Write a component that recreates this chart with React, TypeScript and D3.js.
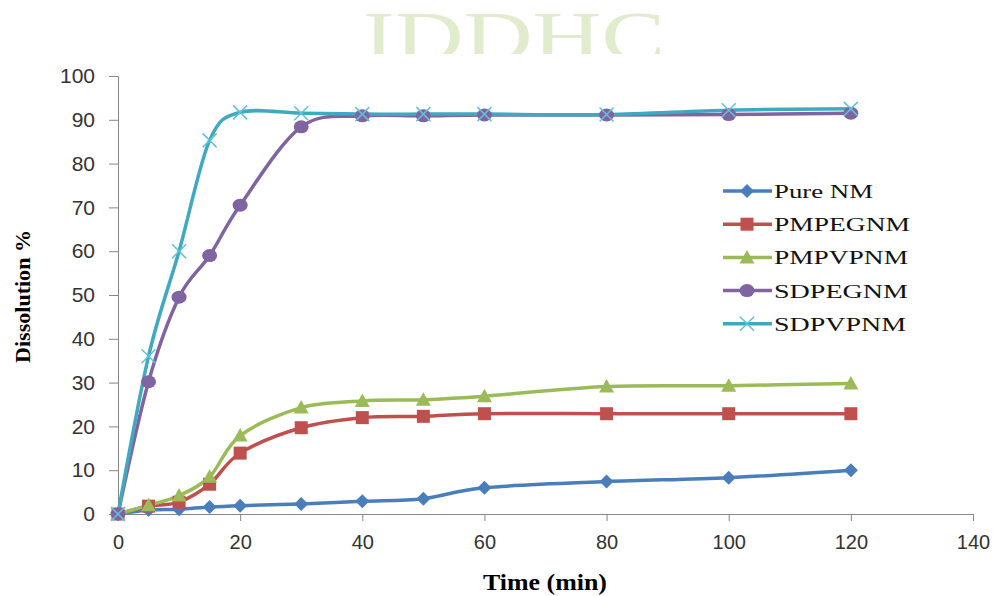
import * as d3 from 'd3'
import { useEffect, useRef } from 'react'

// time points (min)
const times = [0, 5, 10, 15, 20, 30, 40, 50, 60, 80, 100, 120]

const pureNM = [0, 0.9, 1.1, 1.6, 1.9, 2.3, 2.9, 3.5, 6.0, 7.4, 8.3, 10.0]
const pmPEGNM = [0, 1.8, 2.7, 6.8, 13.9, 19.7, 22.0, 22.3, 22.9, 22.9, 22.9, 22.9]
const pmPVPNM = [0, 2.0, 4.2, 8.5, 17.9, 24.3, 25.8, 26.1, 26.9, 29.1, 29.3, 29.8]
const sdPEGNM = [0, 30.2, 49.5, 59.0, 70.5, 88.4, 90.9, 90.9, 91.1, 91.1, 91.2, 91.5]
const sdPVPNM = [0, 36.0, 60.0, 85.3, 91.7, 91.5, 91.3, 91.3, 91.3, 91.2, 92.2, 92.5]

const seriesNames = ['Pure NM', 'PMPEGNM', 'PMPVPNM', 'SDPEGNM', 'SDPVPNM']
const seriesColors = ['#4a7ebb', '#c0504d', '#9bbb59', '#8064a2', '#3fa9c0']
const seriesMarkers = ['diamond', 'square', 'triangle', 'circle', 'cross']
const legendWidths = [99, 136, 134, 134, 132]

const xTicks = [0, 20, 40, 60, 80, 100, 120, 140]
const yTicks = [0, 10, 20, 30, 40, 50, 60, 70, 80, 90, 100]

const drawMarker = (g, kind, x, y, color) => {
    if (kind === 'diamond') {
        g.append('path').attr('d', `M${x},${y - 7}L${x + 7},${y}L${x},${y + 7}L${x - 7},${y}Z`).attr('fill', color)
    } else if (kind === 'square') {
        g.append('rect').attr('x', x - 6.5).attr('y', y - 6.5).attr('width', 13).attr('height', 13).attr('fill', color)
    } else if (kind === 'triangle') {
        g.append('path').attr('d', `M${x},${y - 7.5}L${x + 7.5},${y + 6}L${x - 7.5},${y + 6}Z`).attr('fill', color)
    } else if (kind === 'circle') {
        g.append('ellipse').attr('cx', x).attr('cy', y).attr('rx', 7.5).attr('ry', 6.5).attr('fill', color)
    } else {
        g.append('path').attr('d', `M${x - 7},${y - 7}L${x + 7},${y + 7}M${x + 7},${y - 7}L${x - 7},${y + 7}`)
         .attr('stroke', '#5cc3d8').attr('stroke-width', 1.5).attr('fill', 'none')
    }
}

export default function App() {
    const svgRef = useRef(null)

    useEffect(() => {
        const w = 997
        const h = 596
        const svg = d3.select(svgRef.current)
        svg.selectAll('*').remove()
        svg.attr('width', w).attr('height', h).style('background', '#fff')

        // watermark, only its top shows above the plot
        svg.append('clipPath').attr('id', 'wm-clip')
           .append('rect').attr('x', 0).attr('y', 0).attr('width', w).attr('height', 54)
        svg.append('text')
           .attr('clip-path', 'url(#wm-clip)')
           .attr('x', 363).attr('y', 60)
           .attr('font-family', 'Liberation Serif, serif')
           .attr('font-size', 70)
           .attr('fill', '#e1ebcd')
           .attr('textLength', 302)
           .attr('lengthAdjust', 'spacingAndGlyphs')
           .text('IDDHC')

        const xScale = d3.scaleLinear().domain([0, 140]).range([118, 973])
        const yScale = d3.scaleLinear().domain([0, 100]).range([514, 76])

        const xAxis = d3.axisBottom(xScale).tickValues(xTicks).tickSize(7).tickSizeOuter(0).tickPadding(14)
        const gx = svg.append('g').attr('transform', `translate(0, ${yScale(0)})`).call(xAxis)
        gx.select('.domain').attr('stroke', '#868686')
        gx.selectAll('.tick line').attr('stroke', '#868686')
        gx.selectAll('.tick text')
          .attr('font-family', 'Liberation Sans, Arial, sans-serif')
          .attr('font-size', 20).attr('fill', '#333')

        const yAxis = d3.axisLeft(yScale).tickValues(yTicks).tickSize(9).tickSizeOuter(0).tickPadding(14)
        const gy = svg.append('g').attr('transform', `translate(${xScale(0)}, 0)`).call(yAxis)
        gy.select('.domain').attr('stroke', '#868686')
        gy.selectAll('.tick line').attr('stroke', '#868686')
        gy.selectAll('.tick text')
          .attr('font-family', 'Liberation Sans, Arial, sans-serif')
          .attr('font-size', 21).attr('fill', '#333')

        const allSeries = [pureNM, pmPEGNM, pmPVPNM, sdPEGNM, sdPVPNM]
        const line = d3.line()
                       .x((d, i) => xScale(times[i]))
                       .y(d => yScale(d))
                       .curve(d3.curveCardinal.tension(0))

        allSeries.forEach((vals, s) => {
            svg.append('path')
               .datum(vals)
               .attr('fill', 'none')
               .attr('stroke', seriesColors[s])
               .attr('stroke-width', 3.5)
               .attr('d', line)
        })
        allSeries.forEach((vals, s) => {
            const g = svg.append('g')
            vals.forEach((v, i) => drawMarker(g, seriesMarkers[s], xScale(times[i]), yScale(v), seriesColors[s]))
        })

        // legend
        const legend = svg.append('g')
        seriesNames.forEach((name, s) => {
            const y = 191 + s * 33.2
            legend.append('line').attr('x1', 723).attr('x2', 772).attr('y1', y).attr('y2', y)
                  .attr('stroke', seriesColors[s]).attr('stroke-width', 3.5)
            drawMarker(legend, seriesMarkers[s], 747, y, seriesColors[s])
            legend.append('text')
                  .attr('x', 774).attr('y', y + 7)
                  .attr('font-family', 'Liberation Serif, serif')
                  .attr('font-size', 19)
                  .attr('fill', '#111')
                  .attr('textLength', legendWidths[s])
                  .attr('lengthAdjust', 'spacingAndGlyphs')
                  .text(name)
        })

        svg.append('text')
           .attr('x', 483).attr('y', 590)
           .attr('font-family', 'Liberation Serif, serif')
           .attr('font-weight', 'bold')
           .attr('font-size', 24)
           .attr('textLength', 124)
           .attr('lengthAdjust', 'spacingAndGlyphs')
           .text('Time (min)')

        svg.append('text')
           .attr('transform', 'rotate(-90)')
           .attr('x', -363).attr('y', 30)
           .attr('font-family', 'Liberation Serif, serif')
           .attr('font-weight', 'bold')
           .attr('font-size', 22)
           .attr('textLength', 133)
           .attr('lengthAdjust', 'spacingAndGlyphs')
           .text('Dissolution %')
    }, [])

    return (
        <svg ref={svgRef} style={{ position: 'absolute', left: 0, top: 0, display: 'block' }} />
    )
}
